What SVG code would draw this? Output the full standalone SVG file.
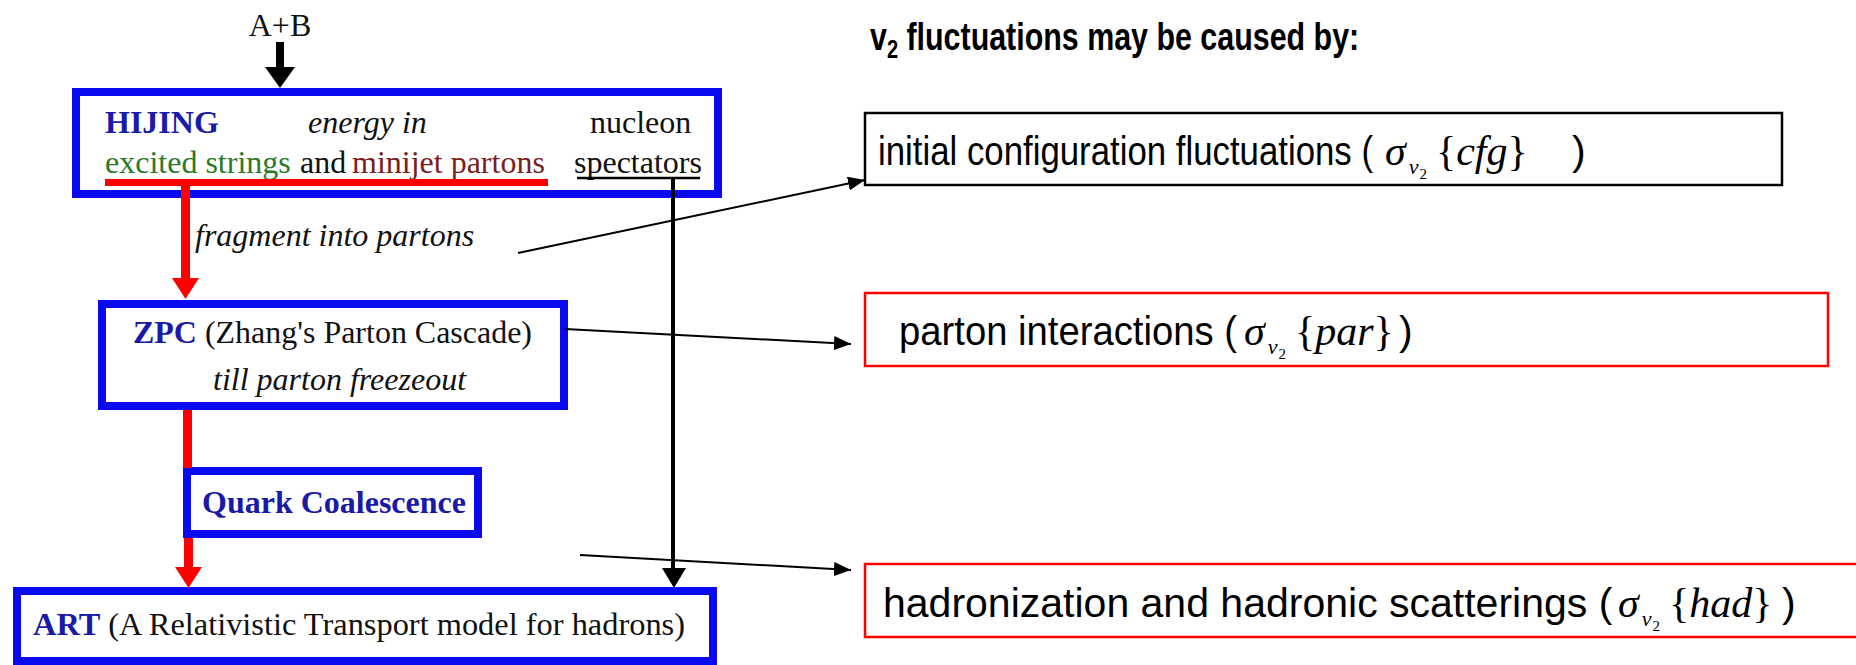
<svg xmlns="http://www.w3.org/2000/svg" width="1856" height="665" viewBox="0 0 1856 665">
<defs>
<style>
.box{fill:#fff;stroke:#0a0af0;stroke-width:8}
.serif{font-family:"Liberation Serif","Times New Roman",serif;font-size:32px;fill:#111}
.bl{font-weight:bold;fill:#1a1aa8}
.it{font-style:italic}
.sans{font-family:"Liberation Sans",Arial,sans-serif;font-size:41px;fill:#000}
.title{font-family:"Liberation Sans",Arial,sans-serif;font-size:38px;font-weight:bold;fill:#000}
.math{font-family:"Liberation Serif","Times New Roman",serif;font-style:italic;font-size:42px;fill:#000}
.up{font-style:normal}
.sub{font-size:22px}
.sub2{font-size:15px;font-style:normal}
.cb{fill:#fff;stroke:#000;stroke-width:2.5}
.cr{fill:#fff;stroke:#ff0000;stroke-width:2.5}
.red{fill:#ff0000}
.blk{stroke:#000;fill:none}
</style>
<marker id="ah" markerWidth="17" markerHeight="14" refX="17" refY="7" orient="auto" markerUnits="userSpaceOnUse"><path d="M0,0 L17,7 L0,14 z" fill="#000"/></marker>
</defs>
<rect x="0" y="0" width="1856" height="665" fill="#fff"/>

<g id="input">
<text class="serif" x="280" y="36" text-anchor="middle" font-size="33">A+B</text>
</g>

<g id="hijing">
<rect class="box" x="76" y="92" width="642" height="102"/>
<text class="serif" y="133"><tspan class="bl" x="105">HIJING</tspan><tspan class="it" x="308">energy in</tspan><tspan x="590">nucleon</tspan></text>
<text class="serif" y="173"><tspan x="105" fill="#2a7a2a">excited strings</tspan><tspan x="300">and</tspan><tspan x="352" fill="#7a1e1e">minijet partons</tspan><tspan x="574">spectators</tspan></text>
</g>

<g id="fragment-label">
<text class="serif it" x="195" y="246">fragment into partons</text>
</g>

<g id="zpc">
<rect class="box" x="102" y="304" width="462" height="102"/>
<text class="serif" x="133" y="343" textLength="399" lengthAdjust="spacingAndGlyphs"><tspan class="bl">ZPC</tspan> (Zhang's Parton Cascade)</text>
<text class="serif it" x="213" y="390">till parton freezeout</text>
</g>

<g id="quark">
<rect class="box" x="187" y="471" width="291" height="63"/>
<text class="serif bl" x="202" y="513">Quark Coalescence</text>
</g>

<g id="art">
<rect class="box" x="17" y="591" width="696" height="70"/>
<text class="serif" x="33" y="635" textLength="652" lengthAdjust="spacingAndGlyphs"><tspan class="bl">ART</tspan> (A Relativistic Transport model for hadrons)</text>
</g>

<g id="title">
<text class="title" transform="translate(870 50) scale(0.8 1)" x="0" y="0">v<tspan font-size="25" dy="8">2</tspan><tspan dy="-8"> fluctuations may be caused by:</tspan></text>
</g>

<g id="cfg">
<rect class="cb" x="865" y="113" width="917" height="72"/>
<text class="sans" x="878" y="165" textLength="495" lengthAdjust="spacingAndGlyphs">initial configuration fluctuations (</text>
<text class="math" x="1385" y="165">σ<tspan class="sub" dx="3" dy="9">v</tspan><tspan class="sub2" dx="1" dy="5">2</tspan><tspan class="up" dx="9" dy="-14">{</tspan>cfg<tspan class="up">}</tspan></text>
<text class="sans" x="1572" y="165">)</text>
</g>

<g id="par">
<rect class="cr" x="865" y="293" width="963" height="73"/>
<text class="sans" x="899" y="345" textLength="338" lengthAdjust="spacingAndGlyphs">parton interactions (</text>
<text class="math" x="1244" y="345">σ<tspan class="sub" dx="3" dy="9">v</tspan><tspan class="sub2" dx="1" dy="5">2</tspan><tspan class="up" dx="9" dy="-14">{</tspan>par<tspan class="up">}</tspan></text>
<text class="sans" x="1399" y="345">)</text>
</g>

<g id="had">
<rect class="cr" x="865" y="564" width="1010" height="73"/>
<text class="sans" x="883" y="617">hadronization and hadronic scatterings (</text>
<text class="math" x="1618" y="617">σ<tspan class="sub" dx="3" dy="9">v</tspan><tspan class="sub2" dx="1" dy="5">2</tspan><tspan class="up" dx="9" dy="-14">{</tspan>had<tspan class="up">}</tspan></text>
<text class="sans" x="1782" y="617">)</text>
</g>

<g id="connectors">
<line x1="280" y1="42" x2="280" y2="70" stroke="#000" stroke-width="8"/>
<polygon points="265,67 295,67 280,88" fill="#000"/>
<rect class="red" x="105" y="179" width="443" height="7"/>
<rect class="red" x="181" y="182" width="9" height="98"/>
<polygon class="red" points="172,278 199,278 185.5,299"/>
<rect class="red" x="183" y="410" width="9" height="58"/>
<rect class="red" x="184" y="538" width="9" height="31"/>
<polygon class="red" points="175,567 202,567 188.5,588"/>
<line class="blk" x1="577" y1="178" x2="700" y2="178" stroke-width="2.5"/>
<line class="blk" x1="673" y1="177" x2="673" y2="570" stroke-width="4"/>
<polygon points="662,568 686,568 674,588" fill="#000"/>
<line class="blk" x1="518" y1="253" x2="865" y2="180" stroke-width="2" marker-end="url(#ah)"/>
<line class="blk" x1="565" y1="329" x2="851" y2="344" stroke-width="2" marker-end="url(#ah)"/>
<line class="blk" x1="580" y1="555" x2="851" y2="570" stroke-width="2" marker-end="url(#ah)"/>
</g>
</svg>
